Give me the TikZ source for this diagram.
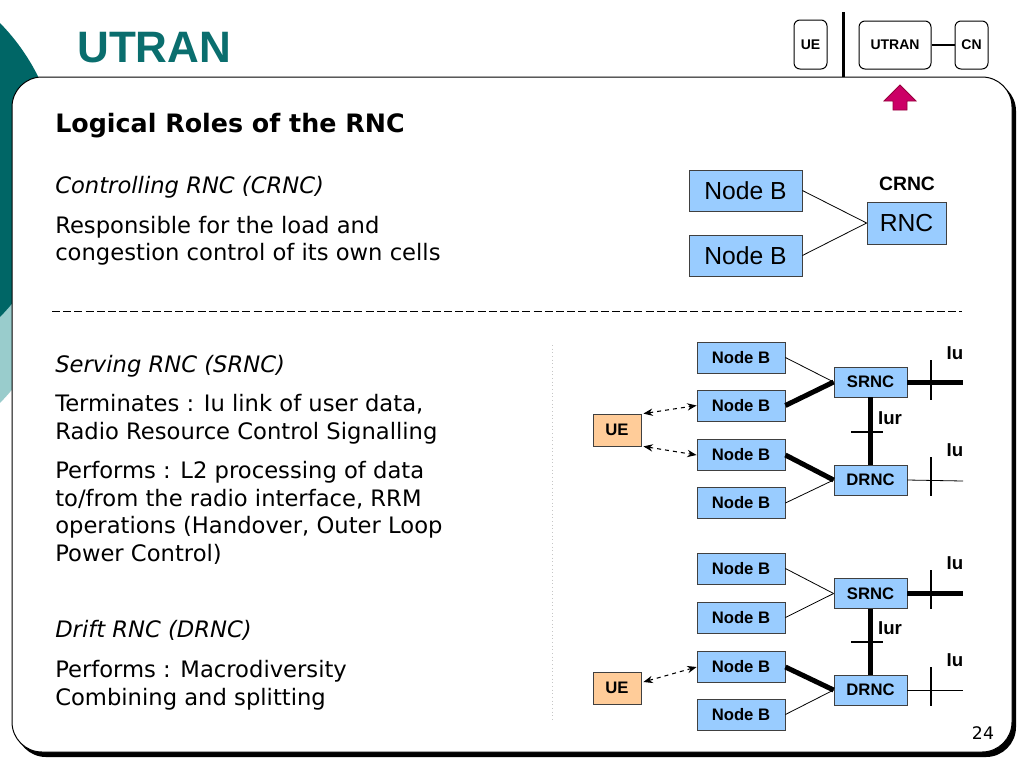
\documentclass[tikz,border=0pt]{standalone}
\usepackage{fontspec}
\setmainfont{DejaVu Sans}
\newfontfamily\arial{Liberation Sans}
\usetikzlibrary{arrows.meta}
\definecolor{tealdark}{RGB}{0,102,102}
\definecolor{teallight}{RGB}{153,204,204}
\definecolor{titleteal}{RGB}{10,110,110}
\definecolor{nodeblue}{RGB}{153,204,255}
\definecolor{ueorange}{RGB}{255,204,153}
\definecolor{arrowmag}{RGB}{204,0,102}
\definecolor{arrowdark}{RGB}{150,0,60}
\tikzset{
  bodytxt/.style={anchor=base west, inner sep=0pt, font=\fontsize{17}{20.6}\selectfont},
  headtxt/.style={anchor=base west, inner sep=0pt, font=\bfseries\fontsize{19}{22}\selectfont},
  itxt/.style={anchor=base west, inner sep=0pt, font=\itshape\fontsize{17}{20.6}\selectfont},
  bigbox/.style={draw=black!75, line width=0.6pt, fill=nodeblue, inner sep=0pt, font=\arial\fontsize{18.5}{20}\selectfont},
  nb/.style={draw=black!75, line width=0.6pt, fill=nodeblue, inner sep=0pt, minimum width=66pt, minimum height=23.25pt, font=\arial\bfseries\fontsize{12.5}{14}\selectfont},
  rncbox/.style={draw=black!75, line width=0.6pt, fill=nodeblue, inner sep=0pt, minimum width=54.75pt, minimum height=22.5pt, font=\arial\bfseries\fontsize{12.5}{14}\selectfont},
  uebox/.style={draw=black!75, line width=0.6pt, fill=ueorange, inner sep=0pt, minimum width=36pt, minimum height=24pt, font=\arial\bfseries\fontsize{12.5}{14}\selectfont},
  topbox/.style={draw=black, line width=0.75pt, rounded corners=4.5pt, fill=white, inner sep=0pt, minimum height=36pt, font=\arial\bfseries\fontsize{10.5}{12}\selectfont},
  lbl/.style={inner sep=0pt, font=\arial\bfseries\fontsize{14}{15}\selectfont},
  thinln/.style={line width=0.6pt},
  thickln/.style={line width=3.75pt},
  tickln/.style={line width=1.1pt},
  dasharr/.style={dashed, line width=0.8pt, {Stealth[length=7pt,width=5.5pt]}-{Stealth[length=7pt,width=5.5pt]}},
}
\begin{document}
\begin{tikzpicture}[x=0.75pt,y=-0.75pt]
\useasboundingbox (0,0) rectangle (1024,768);
\clip (0,0) rectangle (1024,768);
\fill[white] (0,0) rectangle (1024,768);
% background teal shapes
\fill[teallight] (-150,255) circle [radius=158pt];
\fill[tealdark] (-150,170) circle [radius=157.5pt];
% frame with shadow
\fill[black, rounded corners=22.5pt] (16,81) rectangle (1016,757);
\draw[fill=white, line width=0.75pt, rounded corners=22.5pt] (12,77) rectangle (1012,752);
% title
\node[anchor=base west, inner sep=0pt, text=titleteal, font=\arial\bfseries\fontsize{33}{36}\selectfont] (title) at (77,62) {UTRAN};
% top right navigator
\draw[line width=2.25pt] (843,12) -- (843,77);
\node[topbox, minimum width=24.75pt, minimum height=36.75pt] (tue) at (810.5,44.5) {UE};
\node[topbox, minimum width=54pt] (tutran) at (895,45) {UTRAN};
\node[topbox, minimum width=24.75pt] (tcn) at (971.5,45) {CN};
\draw[line width=1.1pt] (tutran.east) -- (tcn.west);
\filldraw[fill=arrowmag, draw=arrowdark, line width=0.6pt] (900,85) -- (916,101) -- (907,101) -- (907,110) -- (893,110) -- (893,101) -- (884,101) -- cycle;
% left texts
\node[headtxt] (t1) at (55,132) {Logical Roles of the RNC};
\node[itxt] (t2) at (55,193) {Controlling RNC (CRNC)};
\node[bodytxt] (t3) at (55,233) {Responsible for the load and};
\node[bodytxt] (t4) at (55,260) {congestion control of its own cells};
\node[itxt] (t5) at (55,372) {Serving RNC (SRNC)};
\node[bodytxt] (t6) at (55,411) {Terminates : Iu link of user data,};
\node[bodytxt] (t7) at (55,439) {Radio Resource Control Signalling};
\node[bodytxt] (t8) at (55,478) {Performs : L2 processing of data};
\node[bodytxt] (t9) at (55,506) {to/from the radio interface, RRM};
\node[bodytxt] (t10) at (55,533) {operations (Handover, Outer Loop};
\node[bodytxt] (t11) at (55,561) {Power Control)};
\node[itxt] (t12) at (55,637) {Drift RNC (DRNC)};
\node[bodytxt] (t13) at (55,677) {Performs : Macrodiversity};
\node[bodytxt] (t14) at (55,705) {Combining and splitting};
% separators
\draw[line width=0.75pt, dash pattern=on 6pt off 2.4pt] (52,311) -- (962,311);
\draw[gray!45, line width=0.75pt, dotted] (552,345) -- (552,720);
% CRNC diagram
\node[bigbox, minimum width=84.75pt, minimum height=30.75pt] (cnb1) at (745.5,190.5) {Node B};
\node[bigbox, minimum width=84.75pt, minimum height=30.75pt] (cnb2) at (745.5,255.5) {Node B};
\node[bigbox, minimum width=59.25pt, minimum height=31.5pt] (crnc) at (906.5,223) {RNC};
\node[lbl, font=\arial\bfseries\fontsize{14.5}{16}\selectfont] (crnclbl) at (907,184) {CRNC};
\draw[thinln] (cnb1.east) -- (crnc.west);
\draw[thinln] (cnb2.east) -- (crnc.west);
% SRNC diagram 1
\node[nb] (anb1) at (741,357.5) {Node B};
\node[nb] (anb2) at (741,405.5) {Node B};
\node[nb] (anb3) at (741,455) {Node B};
\node[nb] (anb4) at (741,503) {Node B};
\node[rncbox] (asrnc) at (870.5,382) {SRNC};
\node[rncbox] (adrnc) at (870.5,480) {DRNC};
\node[uebox] (aue) at (617,430) {UE};
\draw[thinln] (anb1.east) -- (asrnc.west);
\draw[thickln] (anb2.east) -- (asrnc.west);
\draw[thickln] (anb3.east) -- (adrnc.west);
\draw[thinln] (anb4.east) -- (adrnc.west);
\draw[thickln] (asrnc.south) -- (adrnc.north);
\coordinate (aiu1) at (963,382);
\coordinate (aiu2) at (963,481);
\draw[thickln] (asrnc.east) -- (aiu1);
\draw[thinln] (adrnc.east) -- (aiu2);
\coordinate (at1a) at (931,360); \coordinate (at1b) at (931,400);
\coordinate (at2a) at (931,457); \coordinate (at2b) at (931,496);
\coordinate (at3a) at (851,432); \coordinate (at3b) at (883,432);
\draw[tickln] (at1a) -- (at1b);
\draw[tickln] (at2a) -- (at2b);
\draw[tickln] (at3a) -- (at3b);
\node[lbl] (aiul1) at (955,353) {Iu};
\node[lbl] (aiul2) at (955,450) {Iu};
\node[lbl] (aiurl) at (890,418) {Iur};
\draw[dasharr] ([xshift=1.5pt]aue.north east) -- (anb2.west);
\draw[dasharr] ([xshift=1.5pt]aue.south east) -- (anb3.west);
% SRNC diagram 2
\node[nb] (bnb1) at (741,568.5) {Node B};
\node[nb] (bnb2) at (741,617.5) {Node B};
\node[nb] (bnb3) at (741,667) {Node B};
\node[nb] (bnb4) at (741,714.5) {Node B};
\node[rncbox] (bsrnc) at (870.5,593.5) {SRNC};
\node[rncbox] (bdrnc) at (870.5,690) {DRNC};
\node[uebox] (bue) at (617,688) {UE};
\draw[thinln] (bnb1.east) -- (bsrnc.west);
\draw[thinln] (bnb2.east) -- (bsrnc.west);
\draw[thickln] (bnb3.east) -- (bdrnc.west);
\draw[thinln] (bnb4.east) -- (bdrnc.west);
\draw[thickln] (bsrnc.south) -- (bdrnc.north);
\coordinate (biu1) at (963,593.5);
\coordinate (biu2) at (963,690);
\draw[thickln] (bsrnc.east) -- (biu1);
\draw[thinln] (bdrnc.east) -- (biu2);
\coordinate (bt1a) at (931,570); \coordinate (bt1b) at (931,609);
\coordinate (bt2a) at (931,667); \coordinate (bt2b) at (931,706);
\coordinate (bt3a) at (851,642); \coordinate (bt3b) at (883,642);
\draw[tickln] (bt1a) -- (bt1b);
\draw[tickln] (bt2a) -- (bt2b);
\draw[tickln] (bt3a) -- (bt3b);
\node[lbl] (biul1) at (955,563) {Iu};
\node[lbl] (biul2) at (955,660) {Iu};
\node[lbl] (biurl) at (890,628) {Iur};
\draw[dasharr] ([xshift=1.5pt,yshift=4.5pt]bue.east) -- (bnb3.west);
% page number
\node[inner sep=0pt, font=\fontsize{13}{15}\selectfont] (pnum) at (983,733) {24};
\end{tikzpicture}
\end{document}
